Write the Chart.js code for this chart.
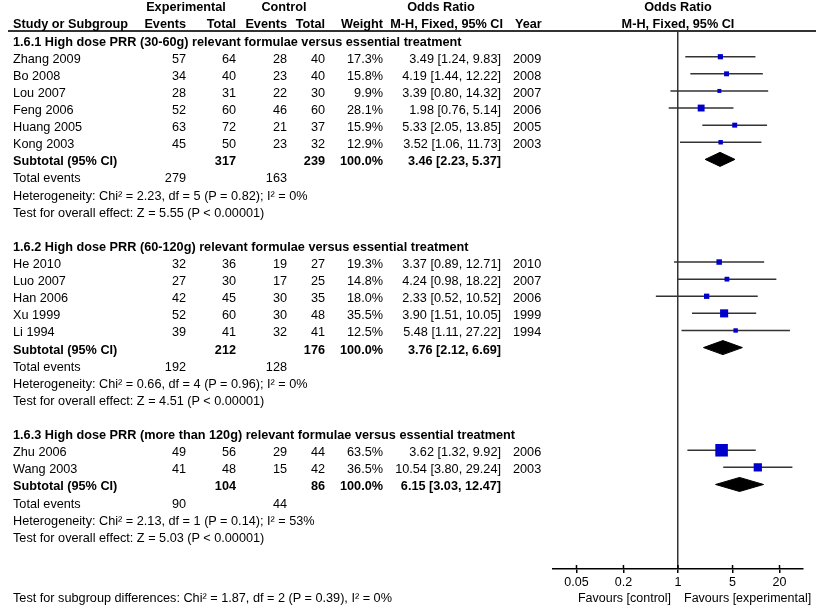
<!DOCTYPE html>
<html>
<head>
<meta charset="utf-8">
<script src="https://cdn.jsdelivr.net/npm/chart.js@4.4.1/dist/chart.umd.min.js"></script>
<style>
  html, body { margin: 0; padding: 0; background: #fff; }
  #wrap { position: relative; width: 816px; height: 614px; overflow: hidden;
          font-family: "Liberation Sans", Arial, sans-serif; font-size: 12.7px; color: #000; }
  #plot { position: absolute; left: 0; top: 0; }
  .t { position: absolute; white-space: nowrap; line-height: 16px; transform: translateY(-50%); }
  .r { transform: translate(-100%, -50%); }
  .c { transform: translate(-50%, -50%); }
  .b { font-weight: bold; }
  .s { font-size: 12.5px; }
</style>
</head>
<body>
<div id="wrap">
  <canvas id="plot" width="816" height="614"></canvas>
  <div id="labels"></div>
</div>
<script>
// ── Data ──────────────────────────────────────────────────────────────────
const groupTitles = [
  '1.6.1 High dose PRR (30-60g) relevant formulae versus essential treatment',
  '1.6.2 High dose PRR (60-120g) relevant formulae versus essential treatment',
  '1.6.3 High dose PRR (more than 120g) relevant formulae versus essential treatment'
];
const studyNames  = ['Zhang 2009','Bo 2008','Lou 2007','Feng 2006','Huang 2005','Kong 2003',
                     'He 2010','Luo 2007','Han 2006','Xu 1999','Li 1994',
                     'Zhu 2006','Wang 2003'];
const studyGroup  = [0,0,0,0,0,0, 1,1,1,1,1, 2,2];
const expEvents   = [57,34,28,52,63,45, 32,27,42,52,39, 49,41];
const expTotal    = [64,40,31,60,72,50, 36,30,45,60,41, 56,48];
const ctrlEvents  = [28,23,22,46,21,23, 19,17,30,30,32, 29,15];
const ctrlTotal   = [40,40,30,60,37,32, 27,25,35,48,41, 44,42];
const weights     = [17.3,15.8,9.9,28.1,15.9,12.9, 19.3,14.8,18.0,35.5,12.5, 63.5,36.5];
const orEst       = [3.49,4.19,3.39,1.98,5.33,3.52, 3.37,4.24,2.33,3.90,5.48, 3.62,10.54];
const ciLow       = [1.24,1.44,0.80,0.76,2.05,1.06, 0.89,0.98,0.52,1.51,1.11, 1.32,3.80];
const ciHigh      = [9.83,12.22,14.32,5.14,13.85,11.73, 12.71,18.22,10.52,10.05,27.22, 9.92,29.24];
const studyYears  = [2009,2008,2007,2006,2005,2003, 2010,2007,2006,1999,1994, 2006,2003];

const subExpTotal   = [317,212,104];
const subCtrlTotal  = [239,176,86];
const subExpEvents  = [279,192,90];
const subCtrlEvents = [163,128,44];
const subOr   = [3.46,3.76,6.15];
const subLow  = [2.23,2.12,3.03];
const subHigh = [5.37,6.69,12.47];
const hetChi  = [2.23,0.66,2.13];
const hetDf   = [5,4,1];
const hetP    = [0.82,0.96,0.14];
const hetI2   = [0,0,53];
const zValues = [5.55,4.51,5.03];
const subgroupTest = 'Test for subgroup differences: Chi\u00b2 = 1.87, df = 2 (P = 0.39), I\u00b2 = 0%';

const tickValues = [0.05, 0.2, 1, 5, 20];

// ── Row layout ────────────────────────────────────────────────────────────
const rows = [];
const studyRow = [];
let r = 0;
groupTitles.forEach((t, g) => {
  rows.push({kind:'title', g, r:r++});
  studyGroup.forEach((sg, i) => { if (sg === g) { studyRow[i] = r; rows.push({kind:'study', i, r:r++}); } });
  rows.push({kind:'sub', g, r:r++});
  rows.push({kind:'events', g, r:r++});
  rows.push({kind:'het', g, r:r++});
  rows.push({kind:'z', g, r:r++});
  r++; // blank line
});
const subRow = rows.filter(o => o.kind === 'sub').map(o => o.r);

// ── Datasets ──────────────────────────────────────────────────────────────
const ciData = [];
studyNames.forEach((n, i) => {
  ciData.push({x:ciLow[i], y:studyRow[i]}, {x:ciHigh[i], y:studyRow[i]}, {x:null, y:null});
});
const DH = 0.41; // diamond half height (rows)
const diamondSets = subOr.map((or, g) => ({
  data: [{x:subLow[g], y:subRow[g]}, {x:or, y:subRow[g]-DH}, {x:subHigh[g], y:subRow[g]},
         {x:or, y:subRow[g]+DH}, {x:subLow[g], y:subRow[g]}],
  showLine:true, fill:'shape', tension:0, pointRadius:0,
  borderColor:'#000', backgroundColor:'#000', borderWidth:1, order:2
}));

const framePlugin = {
  id: 'frame',
  afterDraw(chart) {
    const {ctx, chartArea, scales:{x}} = chart;
    ctx.save();
    ctx.strokeStyle = '#333'; ctx.lineWidth = 2;
    ctx.beginPath(); ctx.moveTo(8, chartArea.top); ctx.lineTo(816, chartArea.top); ctx.stroke();
    ctx.strokeStyle = '#000'; ctx.lineWidth = 1.5;
    x.ticks.forEach(t => {
      const px = x.getPixelForValue(t.value);
      ctx.beginPath(); ctx.moveTo(px, chartArea.bottom - 4); ctx.lineTo(px, chartArea.bottom); ctx.stroke();
    });
    ctx.restore();
  }
};

const chart = new Chart(document.getElementById('plot'), {
  type: 'scatter',
  data: {
    datasets: [
      { data: studyNames.map((n, i) => ({x:orEst[i], y:studyRow[i]})),
        pointStyle:'rect', pointRadius: weights.map(w => (0.16*w + 2.4) / Math.SQRT2),
        backgroundColor:'#0000cc', borderWidth:0, showLine:false, order:0 },
      { data: ciData, showLine:true, spanGaps:false, pointRadius:0,
        borderColor:'#333', borderWidth:1.5, order:1 },
      ...diamondSets
    ]
  },
  options: {
    responsive:false, animation:false, devicePixelRatio:1,
    layout: { padding: { left:553, right:13, top:31, bottom:25 } },
    plugins: { legend:{display:false}, tooltip:{enabled:false} },
    scales: {
      x: {
        type:'logarithmic', min:0.025, max:40,
        afterBuildTicks: s => { s.ticks = tickValues.map(v => ({value:v})); },
        afterFit: s => { s.height = 20; },
        ticks: { callback: v => String(v), color:'#000', padding:2, autoSkip:false, maxRotation:0,
                 font:{family:'"Liberation Sans", Arial, sans-serif', size:12.5} },
        grid: { drawOnChartArea:true, tickLength:4, tickColor:'#000', lineWidth:1.5,
                color: c => (c.tick && c.tick.value === 1) ? '#333' : 'rgba(0,0,0,0)' },
        border: { display:true, color:'#000', width:1.5 }
      },
      y: { type:'linear', reverse:true, min:-0.503, max:30.94, display:false }
    }
  },
  plugins: [framePlugin]
});

// ── Table text ────────────────────────────────────────────────────────────
const xs = chart.scales.x, ys = chart.scales.y;
const labels = document.getElementById('labels');
function put(text, x, row, cls) {
  const d = document.createElement('div');
  d.className = 't ' + (cls || '');
  d.textContent = text;
  d.style.left = x + 'px';
  d.style.top = (ys.getPixelForValue(row) + 2) + 'px';
  labels.appendChild(d);
}
const COL = {name:13, expEv:186, expTot:236, ctlEv:287, ctlTot:325, weight:383, or:501, year:513};
const x1 = xs.getPixelForValue(1);
const fmtOr = (o, l, h) => `${o.toFixed(2)} [${l.toFixed(2)}, ${h.toFixed(2)}]`;

put('Experimental', 186, -2, 'c b');
put('Control', 284, -2, 'c b');
put('Odds Ratio', 441, -2, 'c b');
put('Odds Ratio', x1, -2, 'c b');
put('Study or Subgroup', COL.name, -1, 'b');
put('Events', COL.expEv, -1, 'r b');
put('Total', COL.expTot, -1, 'r b');
put('Events', COL.ctlEv, -1, 'r b');
put('Total', COL.ctlTot, -1, 'r b');
put('Weight', COL.weight, -1, 'r b');
put('M-H, Fixed, 95% CI', 503, -1, 'r b');
put('Year', 515, -1, 'b');
put('M-H, Fixed, 95% CI', x1, -1, 'c b');

rows.forEach(o => {
  const g = o.g;
  if (o.kind === 'title') put(groupTitles[g], COL.name, o.r, 'b');
  if (o.kind === 'study') {
    const i = o.i;
    put(studyNames[i], COL.name, o.r);
    put(String(expEvents[i]), COL.expEv, o.r, 'r');
    put(String(expTotal[i]), COL.expTot, o.r, 'r');
    put(String(ctrlEvents[i]), COL.ctlEv, o.r, 'r');
    put(String(ctrlTotal[i]), COL.ctlTot, o.r, 'r');
    put(weights[i].toFixed(1) + '%', COL.weight, o.r, 'r');
    put(fmtOr(orEst[i], ciLow[i], ciHigh[i]), COL.or, o.r, 'r');
    put(String(studyYears[i]), COL.year, o.r);
  }
  if (o.kind === 'sub') {
    put('Subtotal (95% CI)', COL.name, o.r, 'b');
    put(String(subExpTotal[g]), COL.expTot, o.r, 'r b');
    put(String(subCtrlTotal[g]), COL.ctlTot, o.r, 'r b');
    put('100.0%', COL.weight, o.r, 'r b');
    put(fmtOr(subOr[g], subLow[g], subHigh[g]), COL.or, o.r, 'r b');
  }
  if (o.kind === 'events') {
    put('Total events', COL.name, o.r);
    put(String(subExpEvents[g]), COL.expEv, o.r, 'r');
    put(String(subCtrlEvents[g]), COL.ctlEv, o.r, 'r');
  }
  if (o.kind === 'het')
    put(`Heterogeneity: Chi\u00b2 = ${hetChi[g].toFixed(2)}, df = ${hetDf[g]} (P = ${hetP[g].toFixed(2)}); I\u00b2 = ${hetI2[g]}%`, COL.name, o.r);
  if (o.kind === 'z')
    put(`Test for overall effect: Z = ${zValues[g].toFixed(2)} (P < 0.00001)`, COL.name, o.r);
});

put('Favours [control]', x1 - 7, 32.5, 'r s');
put('Favours [experimental]', x1 + 6, 32.5, 's');
put(subgroupTest, COL.name, 32.5);
</script>
</body>
</html>
